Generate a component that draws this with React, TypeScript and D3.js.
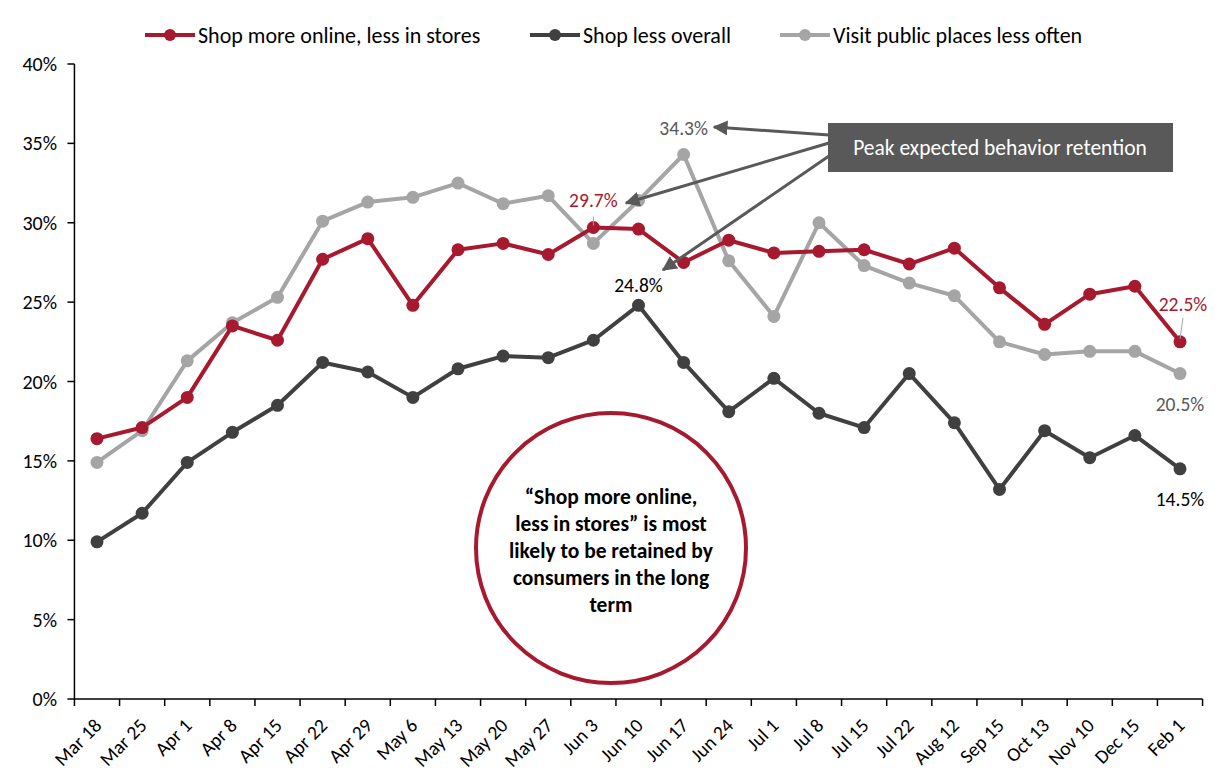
import React, { useEffect } from "react";
import * as d3 from "d3";

const categories = ["Mar 18","Mar 25","Apr 1","Apr 8","Apr 15","Apr 22","Apr 29","May 6","May 13","May 20","May 27","Jun 3","Jun 10","Jun 17","Jun 24","Jul 1","Jul 8","Jul 15","Jul 22","Aug 12","Sep 15","Oct 13","Nov 10","Dec 15","Feb 1"];
const shopOnline = [16.4,17.1,19.0,23.5,22.6,27.7,29.0,24.8,28.3,28.7,28.0,29.7,29.6,27.5,28.9,28.1,28.2,28.3,27.4,28.4,25.9,23.6,25.5,26.0,22.5];
const shopLess = [9.9,11.7,14.9,16.8,18.5,21.2,20.6,19.0,20.8,21.6,21.5,22.6,24.8,21.2,18.1,20.2,18.0,17.1,20.5,17.4,13.2,16.9,15.2,16.6,14.5];
const visitLess = [14.9,16.9,21.3,23.7,25.3,30.1,31.3,31.6,32.5,31.2,31.7,28.7,31.4,34.3,27.6,24.1,30.0,27.3,26.2,25.4,22.5,21.7,21.9,21.9,20.5];
const yTicks = [0,5,10,15,20,25,30,35,40];
const seriesNames = ["Shop more online, less in stores","Shop less overall","Visit public places less often"];
const seriesColors = ["#A6192E","#404040","#A5A5A5"];
const circleText = ["\u201CShop more online,","less in stores\u201D is most","likely to be retained by","consumers in the long","term"];
const boxText = "Peak expected behavior retention";

const FONT = "Carlito, Lato, 'Open Sans', sans-serif";

export default function App() {
  useEffect(() => {
    document.body.style.margin = "0";
  }, []);

  const x = d3.scalePoint<string>().domain(categories).range([97, 1180]);
  const step = x.step();
  const y = d3.scaleLinear().domain([0, 40]).range([699, 64]);
  const series = [shopOnline, shopLess, visitLess];
  const line = d3.line<number>().x((_, i) => x(categories[i])!).y((d) => y(d));
  const axisLeft = x(categories[0])! - step / 2;
  const axisRight = x(categories[categories.length - 1])! + step / 2;
  const tickXs = d3.range(categories.length + 1).map((i) => axisLeft + i * step);

  const legendX = [145, 530, 780];
  const last = categories.length - 1;
  const peakOnline = 11;
  const peakLess = 12;
  const peakVisit = 13;

  return (
    <svg width={1226} height={772} style={{ display: "block", background: "#fff", fontFamily: FONT }}>
      <defs>
        <marker id="ah" viewBox="0 0 10 10" refX="9" refY="5" markerWidth="5" markerHeight="5" orient="auto-start-reverse">
          <path d="M0,0 L10,5 L0,10 z" fill="#595959" />
        </marker>
      </defs>
      {/* legend */}
      {seriesNames.map((n, i) => (
        <g key={n}>
          <line x1={legendX[i]} x2={legendX[i] + 50} y1={35} y2={35} stroke={seriesColors[i]} strokeWidth={4} />
          <circle cx={legendX[i] + 25} cy={35} r={6} fill={seriesColors[i]} />
          <text x={legendX[i] + 53} y={35} dy="0.35em" fontSize={22} fill="#000">{n}</text>
        </g>
      ))}
      {/* y axis */}
      <line x1={axisLeft} x2={axisLeft} y1={y(40)} y2={y(0)} stroke="#000" strokeWidth={1.5} />
      {yTicks.map((t) => (
        <g key={t}>
          <line x1={axisLeft - 7} x2={axisLeft} y1={y(t)} y2={y(t)} stroke="#000" strokeWidth={1.5} />
          <text x={57} y={y(t)} dy="0.35em" textAnchor="end" fontSize={20} fill="#000">{t}%</text>
        </g>
      ))}
      {/* x axis */}
      <line x1={axisLeft} x2={axisRight} y1={y(0)} y2={y(0)} stroke="#000" strokeWidth={1.5} />
      {tickXs.map((tx, i) => (
        <line key={i} x1={tx} x2={tx} y1={y(0)} y2={y(0) + 7} stroke="#000" strokeWidth={1.5} />
      ))}
      {categories.map((c) => (
        <text key={c} transform={`translate(${x(c)! + 1},${y(0) + 23}) rotate(-45)`} textAnchor="end" dy="0.35em" fontSize={19.5} fill="#000">{c}</text>
      ))}
      {/* circle note */}
      <circle cx={611} cy={548} r={135} fill="none" stroke="#A6192E" strokeWidth={4} />
      {circleText.map((t, i) => (
        <text key={i} x={611} y={504 + i * 27} textAnchor="middle" fontSize={21.5} fontWeight="bold" fill="#000">{t}</text>
      ))}
      {/* series */}
      {[2, 1, 0].map((si) => (
        <g key={si}>
          <path d={line(series[si]) || ""} fill="none" stroke={seriesColors[si]} strokeWidth={4} strokeLinejoin="round" />
          {series[si].map((v, i) => (
            <circle key={i} cx={x(categories[i])!} cy={y(v)} r={6.5} fill={seriesColors[si]} />
          ))}
        </g>
      ))}
      {/* data labels */}
      <line x1={x(categories[peakOnline])!} x2={x(categories[peakOnline])!} y1={y(shopOnline[peakOnline]) - 11} y2={y(shopOnline[peakOnline]) - 2} stroke="#A5A5A5" strokeWidth={1} />
      <text x={x(categories[peakOnline])!} y={y(shopOnline[peakOnline]) - 27} dy="0.35em" textAnchor="middle" fontSize={19.5} fill="#A6192E">{shopOnline[peakOnline].toFixed(1)}%</text>
      <text x={x(categories[peakLess])!} y={y(shopLess[peakLess]) - 20} dy="0.35em" textAnchor="middle" fontSize={19.5} fill="#000">{shopLess[peakLess].toFixed(1)}%</text>
      <text x={x(categories[peakVisit])!} y={y(visitLess[peakVisit]) - 26} dy="0.35em" textAnchor="middle" fontSize={19.5} fill="#595959">{visitLess[peakVisit].toFixed(1)}%</text>
      <line x1={x(categories[last])! + 3} x2={x(categories[last])!} y1={y(shopOnline[last]) - 24} y2={y(shopOnline[last]) - 3} stroke="#A5A5A5" strokeWidth={1} />
      <text x={x(categories[last])! + 3} y={y(shopOnline[last]) - 38} dy="0.35em" textAnchor="middle" fontSize={19.5} fill="#A6192E">{shopOnline[last].toFixed(1)}%</text>
      <text x={x(categories[last])!} y={y(visitLess[last]) + 31} dy="0.35em" textAnchor="middle" fontSize={19.5} fill="#595959">{visitLess[last].toFixed(1)}%</text>
      <text x={x(categories[last])!} y={y(shopLess[last]) + 30} dy="0.35em" textAnchor="middle" fontSize={19.5} fill="#000">{shopLess[last].toFixed(1)}%</text>
      {/* annotation box and arrows */}
      <line x1={829} y1={135} x2={714} y2={127} stroke="#595959" strokeWidth={3} markerEnd="url(#ah)" />
      <line x1={829} y1={143} x2={626} y2={203} stroke="#595959" strokeWidth={3} markerEnd="url(#ah)" />
      <line x1={829} y1={156} x2={663} y2={270} stroke="#595959" strokeWidth={3} markerEnd="url(#ah)" />
      <rect x={828} y={123} width={345} height={49} fill="#595959" />
      <text x={1000} y={147} dy="0.35em" textAnchor="middle" fontSize={21.5} fill="#fff">{boxText}</text>
    </svg>
  );
}
